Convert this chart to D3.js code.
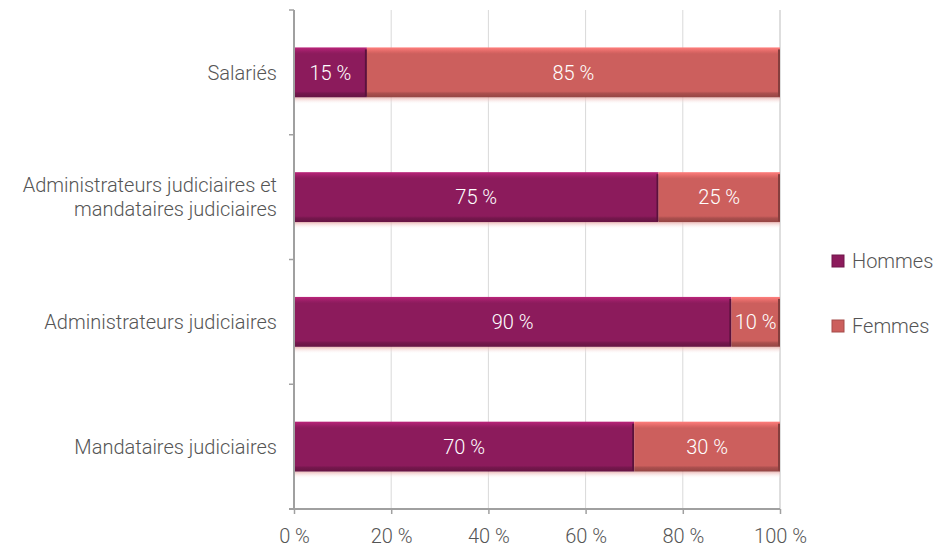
<!DOCTYPE html>
<html>
<head>
<meta charset="utf-8">
<script src="https://cdn.jsdelivr.net/npm/d3@7"></script>
<style>
  html, body { margin: 0; padding: 0; background: #fff; }
  svg text { font-family: Roboto, "DejaVu Sans", sans-serif; font-weight: 300; }
</style>
</head>
<body>
<svg id="chart" width="933" height="550"></svg>
<script>
// Répartition hommes / femmes par catégorie
const categories = ["Salariés", "Administrateurs judiciaires et\nmandataires judiciaires", "Administrateurs judiciaires", "Mandataires judiciaires"];
const hommes = [15, 75, 90, 70];
const femmes = [85, 25, 10, 30];
const seriesNames = ["Hommes", "Femmes"];
const xTicks = [0, 20, 40, 60, 80, 100];

const colors = { Hommes: "#8c1b5c", Femmes: "#cc5f5d" };
const FS = 20;

const svg = d3.select("#chart");
const margin = { left: 294, right: 153, top: 10, bottom: 41 };
const W = 933, H = 550;

const x = d3.scaleLinear().domain([0, 100]).range([margin.left, W - margin.right]);
const y = d3.scaleBand().domain(categories).range([margin.top, H - margin.bottom]).paddingInner(0.6).paddingOuter(0.3);

const defs = svg.append("defs");
// Bevel-like vertical shading for each series
function shade(id, base) {
  const c = d3.color(base);
  const g = defs.append("linearGradient").attr("id", id).attr("x1", 0).attr("y1", 0).attr("x2", 0).attr("y2", 1);
  g.append("stop").attr("offset", "0%").attr("stop-color", c.brighter(0.8));
  g.append("stop").attr("offset", "9%").attr("stop-color", c.brighter(0.2));
  g.append("stop").attr("offset", "13%").attr("stop-color", base);
  g.append("stop").attr("offset", "88%").attr("stop-color", base);
  g.append("stop").attr("offset", "92%").attr("stop-color", c.darker(0.5));
  g.append("stop").attr("offset", "100%").attr("stop-color", c.darker(0.9));
}
shade("gH", colors.Hommes);
shade("gF", colors.Femmes);
const refl = defs.append("linearGradient").attr("id", "refl").attr("x1", 0).attr("y1", 0).attr("x2", 0).attr("y2", 1);
refl.append("stop").attr("offset", "0%").attr("stop-color", "#e8a9a6").attr("stop-opacity", 0.8);
refl.append("stop").attr("offset", "100%").attr("stop-color", "#ffffff").attr("stop-opacity", 0);

// Vertical gridlines
svg.append("g").selectAll("line").data(xTicks.slice(1)).join("line")
  .attr("x1", d => x(d)).attr("x2", d => x(d))
  .attr("y1", margin.top).attr("y2", H - margin.bottom)
  .attr("stroke", d => d === 100 ? "#bdbdbd" : "#d9d9d9").attr("stroke-width", 1);

// Stacked data
const rows = categories.map((c, i) => ({ cat: c, Hommes: hommes[i], Femmes: femmes[i] }));
const stack = d3.stack().keys(seriesNames)(rows);

// Soft reflection under bars
svg.append("g").selectAll("rect").data(rows).join("rect")
  .attr("x", x(0)).attr("width", x(100) - x(0))
  .attr("y", d => y(d.cat) + y.bandwidth()).attr("height", 7)
  .attr("fill", "url(#refl)");

const g = svg.append("g");
stack.forEach(layer => {
  const key = layer.key;
  g.append("g").selectAll("rect").data(layer).join("rect")
    .attr("x", d => x(d[0]))
    .attr("y", d => y(d.data.cat))
    .attr("width", d => x(d[1]) - x(d[0]))
    .attr("height", y.bandwidth())
    .attr("fill", key === "Hommes" ? "url(#gH)" : "url(#gF)");
  // darker right edge
  g.append("g").selectAll("rect").data(layer).join("rect")
    .attr("x", d => x(d[1]) - 2)
    .attr("y", d => y(d.data.cat) + 2)
    .attr("width", 2)
    .attr("height", y.bandwidth() - 3)
    .attr("fill", d3.color(colors[key]).darker(1.2));
  g.append("g").selectAll("text").data(layer).join("text")
    .attr("x", d => (x(d[0]) + x(d[1])) / 2)
    .attr("y", d => y(d.data.cat) + y.bandwidth() / 2)
    .attr("dy", "0.36em")
    .attr("text-anchor", "middle")
    .attr("fill", "#fff")
    .attr("font-size", FS)
    .text(d => `${d[1] - d[0]} %`);
});

// Y axis
const yAxisG = svg.append("g");
yAxisG.append("line").attr("x1", x(0)).attr("x2", x(0)).attr("y1", margin.top).attr("y2", H - margin.bottom)
  .attr("stroke", "#a0a0a0").attr("stroke-width", 2);
const yTickPos = d3.range(categories.length + 1).map(i => margin.top + i * ((H - margin.bottom - margin.top) / categories.length));
yAxisG.selectAll("line.t").data(yTickPos).join("line").attr("class", "t")
  .attr("x1", x(0) - 5).attr("x2", x(0)).attr("y1", d => d).attr("y2", d => d)
  .attr("stroke", "#a0a0a0").attr("stroke-width", 1.5);
yAxisG.selectAll("text").data(categories).join("text")
  .attr("text-anchor", "end")
  .attr("fill", "#555")
  .attr("font-size", FS)
  .each(function (d) {
    const lines = d.split("\n");
    const cy = y(d) + y.bandwidth() / 2;
    const t = d3.select(this);
    lines.forEach((ln, i) => {
      t.append("tspan").attr("x", x(0) - 17)
        .attr("y", cy + (i - (lines.length - 1) / 2) * 24)
        .attr("dy", "0.36em").text(ln);
    });
  });

// X axis
const xAxis = d3.axisBottom(x).tickValues(xTicks).tickFormat(d => `${d} %`).tickSize(5).tickPadding(15);
const xg = svg.append("g").attr("transform", `translate(0,${H - margin.bottom})`).call(xAxis);
xg.select(".domain").attr("stroke", "#a0a0a0").attr("stroke-width", 2).attr("d", `M${x(0) - 5},0H${x(100)}`);
xg.selectAll(".tick line").attr("stroke", "#a0a0a0").attr("stroke-width", 1.5);
xg.selectAll(".tick text").attr("fill", "#555").attr("font-size", FS)
  .attr("font-family", "Roboto, sans-serif").attr("font-weight", 300);

// Legend
const legend = svg.append("g");
seriesNames.forEach((s, i) => {
  const ly = 261 + i * 65;
  legend.append("rect").attr("x", 832).attr("y", ly - 6).attr("width", 12).attr("height", 12)
    .attr("fill", colors[s]).attr("stroke", d3.color(colors[s]).darker(0.6)).attr("stroke-width", 1);
  legend.append("text").attr("x", 852).attr("y", ly).attr("dy", "0.36em")
    .attr("fill", "#555").attr("font-size", FS).text(s);
});
</script>
</body>
</html>
